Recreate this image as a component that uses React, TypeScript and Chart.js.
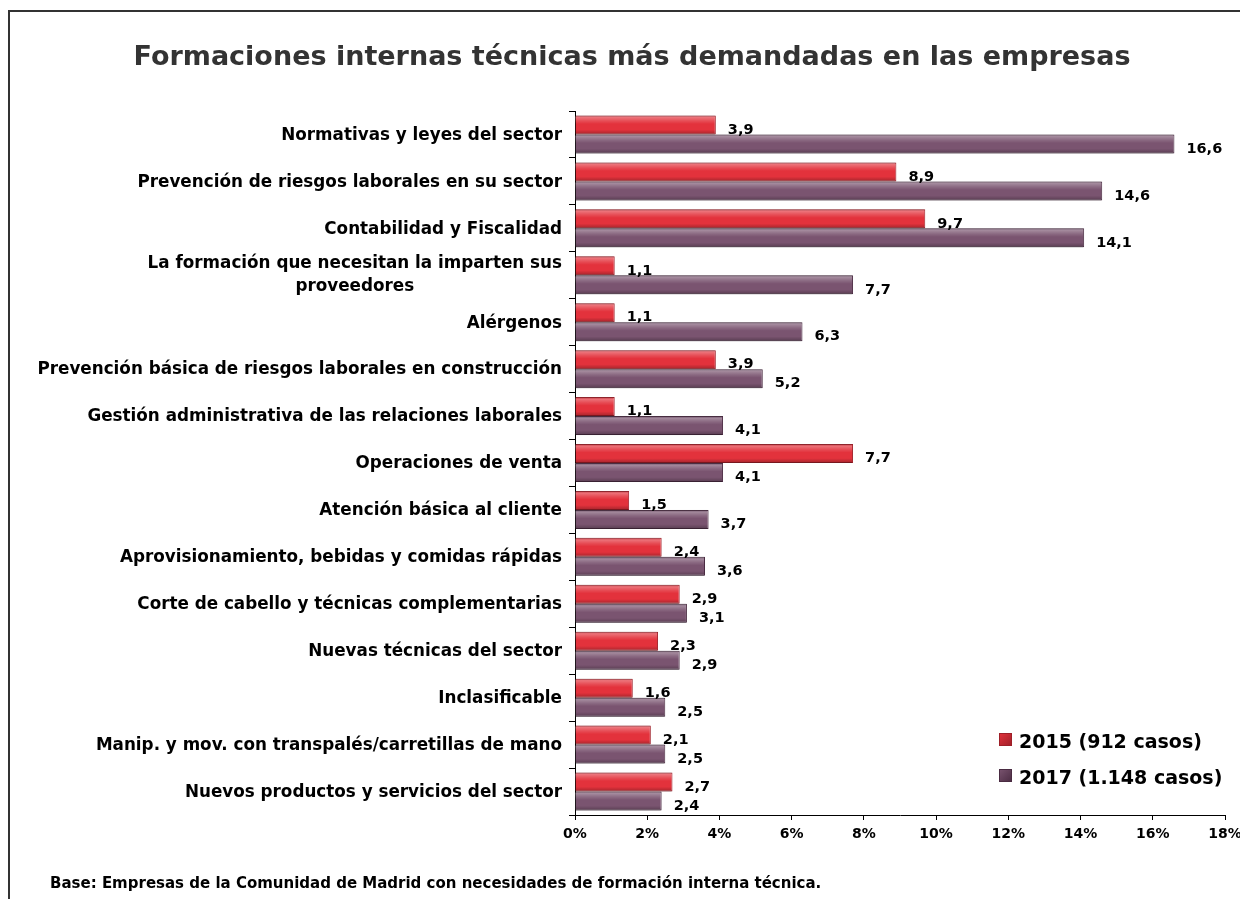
import React, { useEffect, useRef } from "react";
import { Chart, registerables } from "chart.js";

Chart.register(...registerables);

const chartTitle = "Formaciones internas técnicas más demandadas en las empresas";
const footerText = "Base: Empresas de la Comunidad de Madrid con necesidades de formación interna técnica.";

const categories: (string | string[])[] = [
  "Normativas y leyes del sector",
  "Prevención de riesgos laborales en su sector",
  "Contabilidad y Fiscalidad",
  ["La formación que necesitan la imparten sus", "proveedores"],
  "Alérgenos",
  "Prevención básica de riesgos laborales en construcción",
  "Gestión administrativa de las relaciones laborales",
  "Operaciones de venta",
  "Atención básica al cliente",
  "Aprovisionamiento, bebidas y comidas rápidas",
  "Corte de cabello y técnicas complementarias",
  "Nuevas técnicas del sector",
  "Inclasificable",
  "Manip. y mov. con transpalés/carretillas de mano",
  "Nuevos productos y servicios del sector",
];

const values2015 = [3.9, 8.9, 9.7, 1.1, 1.1, 3.9, 1.1, 7.7, 1.5, 2.4, 2.9, 2.3, 1.6, 2.1, 2.7];
const values2017 = [16.6, 14.6, 14.1, 7.7, 6.3, 5.2, 4.1, 4.1, 3.7, 3.6, 3.1, 2.9, 2.5, 2.5, 2.4];

const seriesLabels = ["2015 (912 casos)", "2017 (1.148 casos)"];
const seriesColors = ["#E3323C", "#7A5470"];
const seriesDark = ["#9E1F28", "#4A2B42"];

const xMin = 0;
const xMax = 18;
const xStep = 2;

const FONT = "'DejaVu Sans', Verdana, sans-serif";

function fmt(v: number) {
  return v.toFixed(1).replace(".", ",");
}

const decorPlugin = {
  id: "decor",
  afterDatasetsDraw(chart: any) {
    const ctx = chart.ctx as CanvasRenderingContext2D;
    ctx.save();
    chart.data.datasets.forEach((ds: any, di: number) => {
      const meta = chart.getDatasetMeta(di);
      meta.data.forEach((bar: any) => {
        const left = Math.min(bar.base, bar.x);
        const w = Math.abs(bar.x - bar.base) - 1;
        const top = bar.y - bar.height / 2;
        const h = bar.height;
        if (w <= 0) return;
        const g = ctx.createLinearGradient(0, top, 0, top + h);
        g.addColorStop(0, "rgba(0,0,0,0.12)");
        g.addColorStop(0.1, "rgba(255,255,255,0.32)");
        g.addColorStop(0.3, "rgba(255,255,255,0.12)");
        g.addColorStop(0.45, "rgba(255,255,255,0)");
        g.addColorStop(0.75, "rgba(0,0,0,0)");
        g.addColorStop(1, "rgba(0,0,0,0.28)");
        ctx.fillStyle = g;
        ctx.fillRect(left, top, w, h);
      });
    });
    ctx.restore();
  },
  afterDraw(chart: any) {
    const ctx = chart.ctx as CanvasRenderingContext2D;
    const yScale = chart.scales.y;
    ctx.save();

    // Title
    ctx.fillStyle = "#333333";
    ctx.font = `bold 27px ${FONT}`;
    ctx.textAlign = "center";
    ctx.textBaseline = "alphabetic";
    ctx.fillText(chartTitle, 632, 65);

    // Category labels
    ctx.fillStyle = "#000";
    ctx.font = `bold 16.8px ${FONT}`;
    ctx.textBaseline = "middle";
    const labelRight = 562;
    categories.forEach((c, i) => {
      const cy = yScale.getPixelForValue(i);
      if (Array.isArray(c)) {
        const maxW = Math.max(...c.map((l) => ctx.measureText(l).width));
        const cx = labelRight - maxW / 2;
        ctx.textAlign = "center";
        const lh = 23;
        const start = cy - ((c.length - 1) * lh) / 2;
        c.forEach((l, k) => ctx.fillText(l, cx, start + k * lh));
      } else {
        ctx.textAlign = "right";
        ctx.fillText(c, labelRight, cy + 1);
      }
    });

    // Value labels
    ctx.font = `bold 14.5px ${FONT}`;
    ctx.textAlign = "left";
    chart.data.datasets.forEach((ds: any, di: number) => {
      const meta = chart.getDatasetMeta(di);
      meta.data.forEach((bar: any, j: number) => {
        ctx.fillText(fmt(ds.data[j]), bar.x + 12, bar.y + 5);
      });
    });

    // Legend
    ctx.font = `bold 19px ${FONT}`;
    ctx.textBaseline = "alphabetic";
    chart.data.datasets.forEach((ds: any, di: number) => {
      const sy = 733 + di * 36;
      const g = ctx.createLinearGradient(999, sy, 1012, sy + 13);
      g.addColorStop(0, seriesColors[di]);
      g.addColorStop(1, seriesDark[di]);
      ctx.fillStyle = g;
      ctx.fillRect(999, sy, 13, 13);
      ctx.strokeStyle = seriesDark[di];
      ctx.lineWidth = 1;
      ctx.strokeRect(999.5, sy + 0.5, 12, 12);
      ctx.fillStyle = "#000";
      ctx.fillText(ds.label, 1019, sy + 15);
    });

    // Footer
    ctx.font = `bold 15px ${FONT}`;
    ctx.textAlign = "left";
    ctx.fillText(footerText, 50, 888);

    ctx.restore();
  },
};

export default function App() {
  const canvasRef = useRef<HTMLCanvasElement | null>(null);

  useEffect(() => {
    if (!canvasRef.current) return;
    const chart = new Chart(canvasRef.current, {
      type: "bar",
      data: {
        labels: categories.map((c) => (Array.isArray(c) ? c.join(" ") : c)),
        datasets: [values2015, values2017].map((vals, i) => ({
          label: seriesLabels[i],
          data: vals,
          backgroundColor: seriesColors[i],
          borderColor: seriesDark[i],
          borderWidth: 1,
          borderSkipped: "start",
          categoryPercentage: 0.81,
          barPercentage: 1.0,
        })),
      },
      options: {
        indexAxis: "y",
        animation: false,
        responsive: true,
        maintainAspectRatio: false,
        layout: { padding: { top: 111, right: 15, left: 0, bottom: 0 } },
        plugins: {
          legend: { display: false },
          title: { display: false },
          tooltip: { enabled: false },
        },
        scales: {
          x: {
            min: xMin,
            max: xMax,
            ticks: {
              stepSize: xStep,
              callback: (v: any) => `${v}%`,
              color: "#000",
              font: { family: FONT, weight: "bold", size: 14 },
              padding: 6,
            },
            grid: { drawOnChartArea: false, drawTicks: true, tickLength: 5, color: "#000" },
            border: { display: true, color: "#000", width: 1 },
            afterFit: (scale: any) => {
              scale.height = 84;
              scale.paddingRight = 0;
              scale.paddingLeft = 0;
            },
          },
          y: {
            ticks: { display: false },
            grid: { drawOnChartArea: false, drawTicks: true, tickLength: 6, color: "#000", offset: true },
            border: { display: true, color: "#000", width: 1 },
            afterFit: (scale: any) => {
              scale.width = 575;
              scale.paddingTop = 0;
              scale.paddingBottom = 0;
            },
          },
        },
      },
      plugins: [decorPlugin],
    } as any);
    return () => chart.destroy();
  }, []);

  return (
    <div style={{ position: "fixed", left: 0, top: 0, width: 1240, height: 899, overflow: "hidden", background: "#fff" }}>
      <div
        style={{
          position: "absolute",
          left: 8,
          top: 10,
          width: 1300,
          height: 1000,
          borderLeft: "2px solid #333",
          borderTop: "2px solid #333",
        }}
      />
      <div style={{ position: "absolute", left: 0, top: 0, width: 1240, height: 899 }}>
        <canvas ref={canvasRef} />
      </div>
    </div>
  );
}
